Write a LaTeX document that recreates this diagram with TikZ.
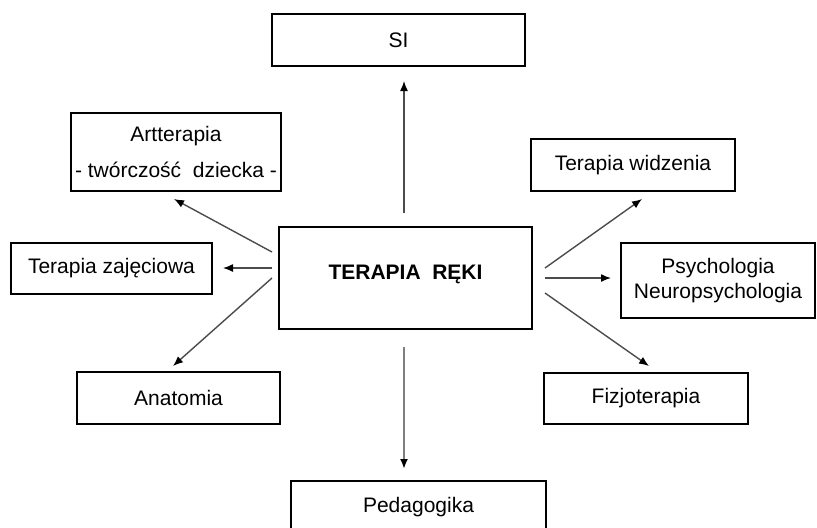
\documentclass[tikz,border=0pt]{standalone}
\usepackage{fontspec}
\setmainfont{Liberation Sans}
\usetikzlibrary{arrows.meta,calc}

\begin{document}
\begin{tikzpicture}[x=0.5pt,y=-0.5pt,font=\fontsize{10.5}{12.6}\selectfont,
  box/.style 2 args={draw,line width=1pt,inner sep=0pt,align=center,minimum width=#1*0.5pt,minimum height=#2*0.5pt},
  arr/.style={draw=black!70,line width=0.7pt,-{Latex[length=5pt,width=4pt,color=black]}},
  vert/.style={draw=black!50,line width=1.2pt,-{Latex[length=5pt,width=4pt,color=black]}}]
  \clip (0,0) rectangle (817,527);
  \node[box={253}{102},font=\fontsize{10.5}{12.6}\selectfont\bfseries,text height=7.5pt,text depth=6pt] (hand) at (405.5,278) {TERAPIA\ \ RĘKI};
  \node[box={253}{52}] (si) at (398.5,40) {SI};
  \node[box={210}{78}] (art) at (176,152) {Artterapia\\[5pt]- twórczość\ \ dziecka -};
  \node[box={201}{51}] (zaj) at (111.5,268.5) {Terapia zajęciowa};
  \node[box={203}{52}] (ana) at (178.5,398) {Anatomia};
  \node[box={204}{52}] (wid) at (633,165) {Terapia widzenia};
  \node[box={194}{75}] (psy) at (718,280.5) {Psychologia\\Neuropsychologia};
  \node[box={204}{51}] (fiz) at (646,398.5) {Fizjoterapia};
  \node[box={255}{52}] (ped) at (418.5,507) {Pedagogika};
  \draw[arr] ($(hand.north)+(-1.5,-13)$) -- ($(si.south)+(5.5,14)$);
  \draw[vert] ($(hand.south)+(-1.5,17)$) -- ($(ped.north)+(-14.5,-11)$);
  \draw[arr] ($(hand.west)+(-6,-26)$) -- ($(art.south)+(-2,7)$);
  \draw[arr] ($(hand.west)+(-6,-10)$) -- ($(zaj.east)+(10,-0.5)$);
  \draw[arr] ($(hand.west)+(-6,0)$) -- ($(ana.north)+(-5.5,-5)$);
  \draw[arr] ($(hand.east)+(12,-10)$) -- ($(wid.south)+(9,7)$);
  \draw[arr] ($(hand.east)+(12,0)$) -- ($(psy.west)+(-9,-2.5)$);
  \draw[arr] ($(hand.east)+(12,15)$) -- ($(fiz.north)+(3,-6)$);
\end{tikzpicture}
\end{document}
